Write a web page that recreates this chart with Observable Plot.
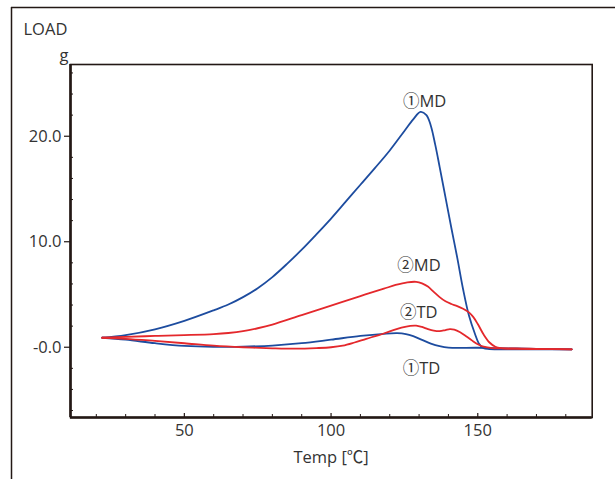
<!DOCTYPE html>
<html><head><meta charset="utf-8">
<script src="https://cdn.jsdelivr.net/npm/d3@7"></script>
<script src="https://cdn.jsdelivr.net/npm/@observablehq/plot@0.6"></script>
<style>body{margin:0;background:#fff;}</style>
</head><body><div id="chart"></div>
<script>
// ① MD (blue)
const md1T = [22, 30, 40, 50, 60, 65, 70, 75, 80, 85, 90, 95, 100, 105, 110, 115, 120, 125, 128, 130.5, 132.5, 134, 135.5, 137, 139, 141, 143, 145, 147, 149, 150.5, 152, 154, 160, 170, 182];
const md1V = [0.9, 1.15, 1.7, 2.5, 3.5, 4.05, 4.75, 5.6, 6.65, 7.9, 9.25, 10.7, 12.2, 13.8, 15.4, 17.0, 18.65, 20.5, 21.6, 22.3, 22.0, 21.0, 19.2, 17.1, 14.2, 11.3, 8.5, 5.5, 3.0, 1.3, 0.3, -0.1, -0.17, -0.2, -0.2, -0.2];
// ① TD (blue)
const td1T = [22, 30, 40, 50, 60, 70, 80, 90, 100, 110, 118, 122.5, 125.5, 128, 131, 134, 137, 140, 150, 160, 170, 182];
const td1V = [0.9, 0.72, 0.38, 0.12, 0.03, 0.06, 0.16, 0.38, 0.72, 1.07, 1.27, 1.33, 1.25, 1.05, 0.7, 0.35, 0.1, -0.04, -0.05, -0.1, -0.15, -0.2];
// ② MD (red)
const md2T = [22, 30, 40, 50, 60, 65, 70, 75, 80, 90, 100, 110, 118, 122, 126, 129, 131, 133, 135, 137, 139, 141, 143, 145, 147, 148.5, 150, 152, 154, 156, 158, 165, 175, 182];
const md2V = [0.9, 0.98, 1.07, 1.15, 1.25, 1.35, 1.52, 1.8, 2.15, 3.05, 3.95, 4.85, 5.55, 5.9, 6.15, 6.2, 6.05, 5.75, 5.25, 4.75, 4.35, 4.1, 3.9, 3.65, 3.3, 2.85, 2.2, 1.2, 0.45, 0.05, -0.08, -0.15, -0.18, -0.2];
// ② TD (red)
const td2T = [22, 30, 40, 50, 60, 70, 80, 88, 95, 100, 104, 108, 112, 116, 120, 124, 127, 129, 131, 133, 135, 137, 139, 140.5, 142, 144, 146, 148, 150, 152, 155, 160, 170, 182];
const td2V = [0.9, 0.8, 0.6, 0.38, 0.15, 0.0, -0.1, -0.14, -0.08, 0.0, 0.15, 0.45, 0.8, 1.13, 1.5, 1.86, 2.03, 2.05, 1.92, 1.72, 1.57, 1.52, 1.63, 1.72, 1.67, 1.42, 1.05, 0.65, 0.28, 0.05, -0.08, -0.12, -0.15, -0.2];

const xTicks = [50, 100, 150];
const xTickLabels = ["50", "100", "150"];
const yTicks = [0, 10, 20];
const yTickLabels = ["-0.0", "10.0", "20.0"];
const xMinor = [20, 30, 40, 60, 70, 80, 90, 110, 120, 130, 140, 160, 170, 180];
const yMinor = [-6, -4, -2, 2, 4, 6, 8, 12, 14, 16, 18, 22, 24, 26];
const curveLabels = ["①MD", "②MD", "②TD", "①TD"];
const labelT = [124.5, 122.6, 123.5, 124.4];
const labelV = [23.3, 7.74, 3.3, -2.0];
const xTitle = "Temp [℃]";
const yTitle1 = "LOAD";
const yTitle2 = "g";

const W = 615, H = 479, mL = 70, mT = 64, mR = 23.3, mB = 62;
const pw = W - mL - mR, ph = H - mT - mB;
const xDom = [11.2, 189.0], yDom = [-6.66, 26.8];
const INK = "#231815", TXT = "#333333", BLUE = "#1d4c9f", RED = "#e4282c";
const FONT = "'Open Sans', 'Noto Sans CJK JP', sans-serif";

const toRows = (T, V) => T.map((t, i) => ({t, v: V[i]}));
const lineOpts = (c) => ({x: "t", y: "v", stroke: c, strokeWidth: 1.8, curve: "catmull-rom"});

const chart = Plot.plot({
  width: W, height: H,
  marginLeft: mL, marginTop: mT, marginRight: mR, marginBottom: mB,
  style: {fontFamily: FONT, fontSize: "16px", background: "#fff", color: TXT},
  x: {domain: xDom, axis: null},
  y: {domain: yDom, axis: null},
  marks: [
    // outer frame lines (top + left)
    Plot.ruleX([xDom[0]], {dx: -59, insetTop: -57, insetBottom: -70, stroke: INK, strokeWidth: 1.5}),
    Plot.ruleY([yDom[1]], {dy: -57, insetLeft: -59, insetRight: -30, stroke: INK, strokeWidth: 1.5}),
    // plot box
    Plot.frame({stroke: INK, strokeWidth: 1.6}),
    Plot.ruleX([xDom[0]], {stroke: INK, strokeWidth: 2.6}),
    Plot.ruleY([yDom[0]], {stroke: INK, strokeWidth: 2.6}),
    // ticks
    Plot.tickY(yMinor, {y: d => d, insetRight: pw - 3, stroke: INK, strokeWidth: 1}),
    Plot.tickY(yTicks, {y: d => d, dx: -6, insetRight: pw - 6, stroke: INK, strokeWidth: 1.2}),
    Plot.tickX(xMinor, {x: d => d, insetTop: ph - 3, stroke: INK, strokeWidth: 1}),
    Plot.tickX(xTicks, {x: d => d, insetTop: ph - 4, stroke: INK, strokeWidth: 1.2}),
    // tick labels
    Plot.text(yTicks, {y: d => d, frameAnchor: "left", dx: -9, textAnchor: "end", lineAnchor: "middle", text: (d, i) => yTickLabels[i], fill: TXT, fontSize: 16.5}),
    Plot.text(xTicks, {x: d => d, frameAnchor: "bottom", dy: 18, text: (d, i) => xTickLabels[i], fill: TXT, fontSize: 16.5}),
    // axis titles
    Plot.text([xTitle], {x: () => 100, frameAnchor: "bottom", dy: 45, text: d => d, fill: TXT, fontSize: 16.5}),
    Plot.text([yTitle1], {frameAnchor: "top-left", dx: -47, dy: -35, textAnchor: "start", lineAnchor: "middle", text: d => d, fill: TXT, fontSize: 16.5}),
    Plot.text([yTitle2], {frameAnchor: "top-left", dx: -2, dy: -9, textAnchor: "end", lineAnchor: "middle", text: d => d, fill: TXT, fontSize: 16.5}),
    // curves
    Plot.line(toRows(md1T, md1V), lineOpts(BLUE)),
    Plot.line(toRows(td1T, td1V), lineOpts(BLUE)),
    Plot.line(toRows(md2T, md2V), lineOpts(RED)),
    Plot.line(toRows(td2T, td2V), lineOpts(RED)),
    // curve labels
    Plot.text(curveLabels, {x: (d, i) => labelT[i], y: (d, i) => labelV[i], text: d => d, textAnchor: "start", fill: TXT, fontSize: 16.5})
  ]
});
document.getElementById("chart").appendChild(chart);
</script>
</body></html>
